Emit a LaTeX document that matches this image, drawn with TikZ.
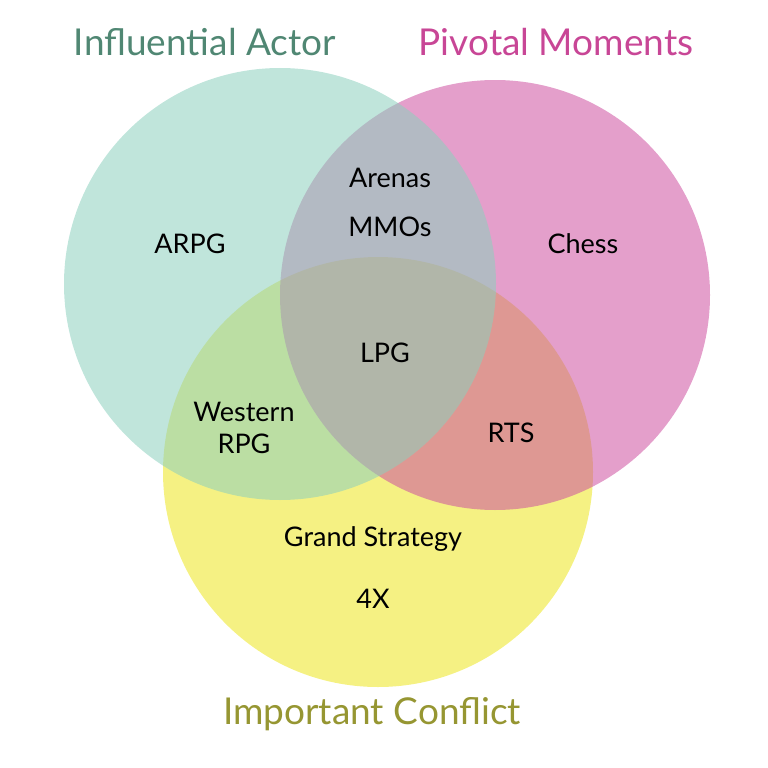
\documentclass[tikz,border=0pt]{standalone}
\usepackage{fontspec}
\setmainfont{Lato}
\begin{document}
\begin{tikzpicture}[x=1pt,y=-1pt,
    set/.style={fill opacity=0.55, draw=none},
    lbl/.style={font=\fontsize{27}{32}\selectfont, align=center},
    ttl/.style={font=\fontsize{37}{44}\selectfont}]

    % Define colors
    \definecolor{setteal}{RGB}{140,208,190}
    \definecolor{setpink}{RGB}{205,80,160}
    \definecolor{setyellow}{RGB}{236,230,30}
    \definecolor{tealtext}{RGB}{80,135,115}
    \definecolor{pinktext}{RGB}{200,70,150}
    \definecolor{olivetext}{RGB}{150,150,50}

    \useasboundingbox (0,0) rectangle (768,768);

    \fill[set, setyellow] (378,472) circle(215);
    \fill[set, setpink] (495,295) circle(215);
    \fill[set, setteal] (280,284) circle(216);

    \node[ttl, text=tealtext] (actor) at (205,42) {Influential Actor};
    \node[ttl, text=pinktext] (moments) at (556,42) {Pivotal Moments};
    \node[ttl, text=olivetext] (conflict) at (372,714) {Important Conflict};

    \node[lbl] (arpg) at (190,244) {ARPG};
    \node[lbl] (arenas) at (390,178) {Arenas};
    \node[lbl] (mmos) at (390,227) {MMOs};
    \node[lbl] (chess) at (583,244) {Chess};
    \node[lbl] (lpg) at (385,353) {LPG};
    \node[lbl] (western) at (244,428) {Western\\RPG};
    \node[lbl] (rts) at (511,433) {RTS};
    \node[lbl] (grand) at (373,539) {Grand Strategy};
    \node[lbl] (fourx) at (373,599) {4X};

\end{tikzpicture}
\end{document}
